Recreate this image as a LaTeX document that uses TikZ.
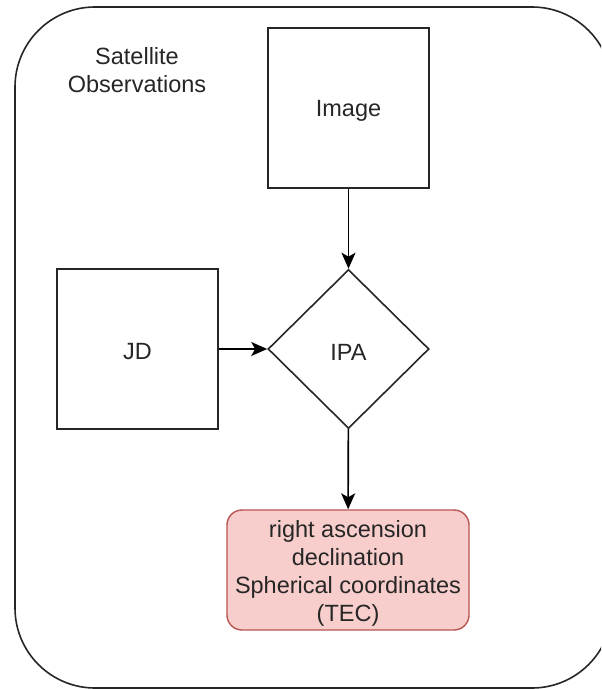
\documentclass[tikz,border=0pt]{standalone}
\usepackage{fontspec}
\setmainfont{Liberation Sans}
\usetikzlibrary{shapes.geometric,arrows.meta}
\definecolor{redfill}{HTML}{F8CECC}
\definecolor{redline}{HTML}{B85450}
\tikzset{
  every node/.style={font=\fontsize{11.75pt}{14pt}\selectfont, text=black!85},
  txt/.style={yshift=-1.5pt, align=center},
  sq/.style={draw=black!85, line width=0.8pt, minimum width=80.5pt, minimum height=80pt, inner sep=0pt},
  dia/.style={draw=black!85, diamond, line width=0.8pt, minimum width=80.5pt, minimum height=79.5pt, inner sep=0pt},
  res/.style={draw=redline, fill=redfill, line width=0.7pt, rounded corners=7.5pt, minimum width=121pt, minimum height=60pt, inner sep=0pt},
  conn/.style={draw=black, line width=0.8pt, -{Stealth[length=8pt,width=7pt,inset=2pt]}}
}
\begin{document}
\begin{tikzpicture}[x=0.5pt,y=-0.5pt]
\useasboundingbox (0,0) rectangle (601,689);
\clip (0,0) rectangle (601,689);
\draw[black!85, line width=0.8pt, rounded corners=40pt] (15,7) rectangle (612,688);
\node[align=center] (title) at (137,70) {Satellite\\Observations};
\node[sq, label={[txt]center:Image}] (image) at (348.5,108) {};
\node[sq, label={[txt]center:JD}] (jd) at (137.5,349) {};
\node[dia, label={[txt]center:IPA}] (ipa) at (348.5,349) {};
\node[res, label={[txt]center:right ascension\\declination\\Spherical coordinates\\(TEC)}] (out) at (348,570) {};
\draw[conn] (image) -- (ipa);
\draw[conn] (jd) -- (ipa);
\draw[conn] (ipa) -- (out);
\end{tikzpicture}
\end{document}
